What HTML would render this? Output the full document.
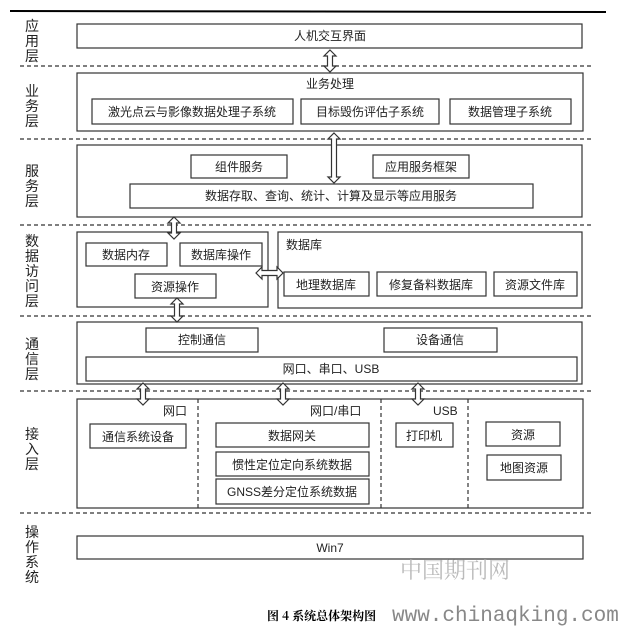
<!DOCTYPE html>
<html><head><meta charset="utf-8"><style>
body{margin:0;background:#fff;width:626px;height:627px;overflow:hidden}
svg text{font-family:"Liberation Sans","Noto Sans CJK SC",sans-serif;fill:#222}
</style></head><body>
<svg width="626" height="627" viewBox="0 0 626 627" xmlns="http://www.w3.org/2000/svg">
<line x1="10" y1="11" x2="606" y2="12" stroke="#000" stroke-width="2"/>
<g stroke="#333" stroke-width="1.2" stroke-dasharray="4,3">
<line x1="20" y1="66" x2="594" y2="66"/><line x1="20" y1="139" x2="594" y2="139"/>
<line x1="20" y1="225" x2="594" y2="225"/><line x1="20" y1="316" x2="594" y2="316"/>
<line x1="20" y1="391" x2="594" y2="391"/><line x1="20" y1="513" x2="594" y2="513"/>
<line x1="198" y1="399" x2="198" y2="508"/><line x1="381" y1="399" x2="381" y2="508"/><line x1="468" y1="399" x2="468" y2="508"/>
</g>
<g fill="#fff" stroke="#333" stroke-width="1.2">
<rect x="77" y="24" width="505" height="24"/>
<rect x="77" y="73" width="506" height="58"/>
<rect x="92" y="99" width="201" height="25"/><rect x="301" y="99" width="138" height="25"/><rect x="450" y="99" width="121" height="25"/>
<rect x="77" y="145" width="505" height="72"/>
<rect x="191" y="155" width="96" height="23"/><rect x="373" y="155" width="96" height="23"/>
<rect x="130" y="184" width="403" height="24"/>
<rect x="77" y="232" width="191" height="75"/><rect x="278" y="232" width="304" height="76"/>
<rect x="86" y="243" width="81" height="23"/><rect x="180" y="243" width="82" height="23"/><rect x="135" y="274" width="81" height="24"/>
<rect x="284" y="272" width="85" height="24"/><rect x="377" y="272" width="109" height="24"/><rect x="494" y="272" width="83" height="24"/>
<rect x="77" y="322" width="505" height="62"/>
<rect x="146" y="328" width="112" height="24"/><rect x="384" y="328" width="113" height="24"/>
<rect x="86" y="357" width="491" height="24"/>
<rect x="77" y="399" width="506" height="109" fill="none"/>
<rect x="90" y="424" width="96" height="24"/><rect x="216" y="423" width="153" height="24"/>
<rect x="216" y="452" width="153" height="24"/><rect x="216" y="479" width="153" height="25"/>
<rect x="396" y="423" width="57" height="24"/><rect x="486" y="422" width="74" height="24"/><rect x="487" y="455" width="74" height="25"/>
<rect x="77" y="536" width="506" height="23"/>
<polygon points="330,50 336,56 332.5,56 332.5,66 336,66 330,72 324,66 327.5,66 327.5,56 324,56"/>
<polygon points="334,133 340,139 336.5,139 336.5,177 340,177 334,183 328,177 331.5,177 331.5,139 328,139"/>
<polygon points="174,217 180,223 176.5,223 176.5,233 180,233 174,239 168,233 171.5,233 171.5,223 168,223"/>
<polygon points="177,298 183,304 179.5,304 179.5,316 183,316 177,322 171,316 174.5,316 174.5,304 171,304"/>
<polygon points="143,383 149,389 145.5,389 145.5,399 149,399 143,405 137,399 140.5,399 140.5,389 137,389"/>
<polygon points="283,383 289,389 285.5,389 285.5,399 289,399 283,405 277,399 280.5,399 280.5,389 277,389"/>
<polygon points="418,383 424,389 420.5,389 420.5,399 424,399 418,405 412,399 415.5,399 415.5,389 412,389"/>
<polygon points="256,273 262,267 262,270.5 277,270.5 277,267 283,273 277,279 277,275.5 262,275.5 262,279"/>
</g>
<g font-size="12" text-anchor="middle">
<text x="330" y="40">人机交互界面</text>
<text x="330" y="88">业务处理</text>
<text x="192" y="116">激光点云与影像数据处理子系统</text><text x="370" y="116">目标毁伤评估子系统</text><text x="510" y="116">数据管理子系统</text>
<text x="239" y="171">组件服务</text><text x="421" y="171">应用服务框架</text>
<text x="331" y="200">数据存取、查询、统计、计算及显示等应用服务</text>
<text x="126" y="259">数据内存</text><text x="221" y="259">数据库操作</text><text x="175" y="291">资源操作</text>
<text x="326" y="289">地理数据库</text><text x="431" y="289">修复备料数据库</text><text x="535" y="289">资源文件库</text>
<text x="202" y="344">控制通信</text><text x="440" y="344">设备通信</text>
<text x="331" y="373">网口、串口、USB</text>
<text x="138" y="441">通信系统设备</text><text x="292" y="440">数据网关</text>
<text x="292" y="469">惯性定位定向系统数据</text><text x="292" y="496">GNSS差分定位系统数据</text>
<text x="424" y="440">打印机</text><text x="523" y="439">资源</text><text x="524" y="472">地图资源</text>
<text x="330" y="552">Win7</text>
</g>
<g font-size="12">
<text x="286" y="249">数据库</text>
<text x="163" y="415">网口</text><text x="310" y="415">网口/串口</text><text x="433" y="415">USB</text>
</g>
<g font-size="14" text-anchor="middle">
<text x="32" y="31">应</text><text x="32" y="46">用</text><text x="32" y="61">层</text>
<text x="32" y="96">业</text><text x="32" y="111">务</text><text x="32" y="126">层</text>
<text x="32" y="176">服</text><text x="32" y="191">务</text><text x="32" y="206">层</text>
<text x="32" y="246">数</text><text x="32" y="261">据</text><text x="32" y="276">访</text><text x="32" y="291">问</text><text x="32" y="306">层</text>
<text x="32" y="349">通</text><text x="32" y="364">信</text><text x="32" y="379">层</text>
<text x="32" y="439">接</text><text x="32" y="454">入</text><text x="32" y="469">层</text>
<text x="32" y="537">操</text><text x="32" y="552">作</text><text x="32" y="567">系</text><text x="32" y="582">统</text>
</g>
<text x="400" y="578" font-size="22" style="fill:#bbb;font-family:'Noto Serif CJK SC',serif">中国期刊网</text>
<text x="267" y="620" font-size="12" font-weight="bold" style="fill:#000;font-family:'Noto Serif CJK SC',serif">图 4  系统总体架构图</text>
<text x="392" y="621" font-size="21" style="fill:#888;font-family:'Liberation Mono',monospace">www.chinaqking.com</text>
</svg>
</body></html>
